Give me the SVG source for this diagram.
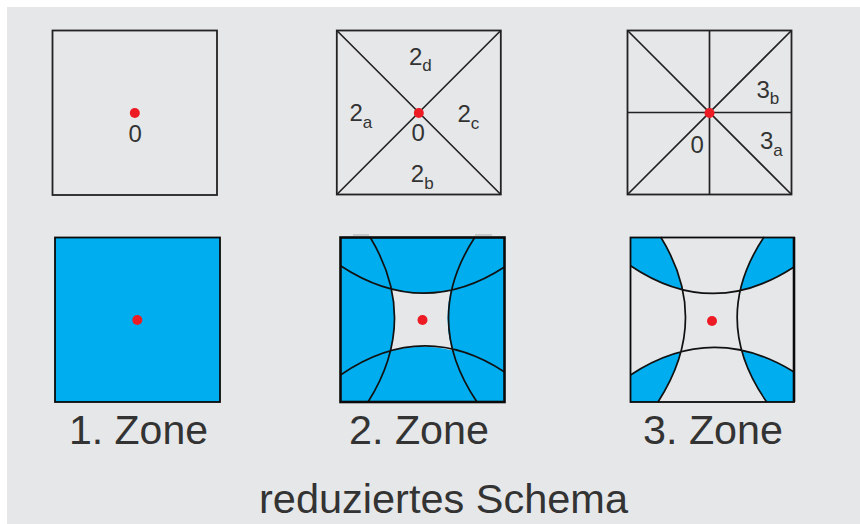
<svg xmlns="http://www.w3.org/2000/svg" width="860" height="524" viewBox="0 0 860 524">
<style>
.box{fill:none;stroke:#222;stroke-width:1.8}
.ln{fill:none;stroke:#222;stroke-width:1.7}
.arc{fill:none;stroke:#111;stroke-width:1.7}
.heavy{fill:none;stroke:#0a0a0a;stroke-width:2.6}
.dot{fill:#ed1c24}
.blue{fill:#00aeef}
.bg{fill:#e6e7e9}
text{font-family:"Liberation Sans",Arial,sans-serif;fill:#333}
.s{font-size:24px}
.sub{font-size:17px}
.big{font-size:40px}
</style>
<defs>
<clipPath id="bandH2"><path d="M340 265.700Q423 320 505 267V375Q423 318.400 340 375Z"/></clipPath>
</defs>
<rect x="0" y="0" width="860" height="524" fill="#fff"/>
<rect class="bg" x="7" y="7" width="853" height="517"/>
<g id="node-top-1">
<rect class="box" x="52.500" y="30.500" width="164.500" height="164.500"/>
<circle class="dot" cx="134.800" cy="113" r="5"/>
<text class="s" x="128.500" y="141.500">0</text>
</g>
<g id="node-top-2">
<rect class="box" x="336.800" y="30.500" width="164" height="164"/>
<path class="ln" d="M336.800 30.500L500.800 194.500M500.800 30.500L336.800 194.500"/>
<circle class="dot" cx="418.800" cy="113" r="5"/>
<text class="s" x="409" y="64.500">2<tspan class="sub" dy="6">d</tspan></text>
<text class="s" x="349.500" y="120.500">2<tspan class="sub" dy="7">a</tspan></text>
<text class="s" x="457.500" y="121.500">2<tspan class="sub" dy="7">c</tspan></text>
<text class="s" x="410.800" y="182">2<tspan class="sub" dy="7">b</tspan></text>
<text class="s" x="411.500" y="141">0</text>
</g>
<g id="node-top-3">
<rect class="box" x="627.500" y="30.500" width="164" height="164"/>
<path class="ln" d="M627.500 30.500L791.500 194.500M791.500 30.500L627.500 194.500M709.500 30.500V194.500M627.500 112.500H791.500"/>
<circle class="dot" cx="709.500" cy="113" r="5"/>
<text class="s" x="756.500" y="98">3<tspan class="sub" dy="6">b</tspan></text>
<text class="s" x="760" y="149">3<tspan class="sub" dy="7">a</tspan></text>
<text class="s" x="690.500" y="152.500">0</text>
</g>
<g id="node-zone-1">
<rect class="blue" x="55" y="237.500" width="165" height="164.500"/>
<rect class="heavy" style="stroke-width:1.8" x="55" y="237.500" width="165" height="164.500"/>
<circle class="dot" cx="137.300" cy="320" r="5"/>
<text class="big" x="69" y="444" textLength="139" lengthAdjust="spacingAndGlyphs">1. Zone</text>
</g>
<g id="node-zone-2">
<rect class="blue" x="340.500" y="237.500" width="164" height="164.500"/>
<g clip-path="url(#bandH2)"><path class="bg" d="M370 237Q420 319.500 368 402H477Q419 319.500 475 237Z"/></g>
<path class="arc" d="M340.500 265.700Q423 320 504.500 267M340.500 375Q423 318.400 504.500 372M370 237Q420 319.500 368 402M475 237Q421 319.500 477 402"/>
<path d="M353 235H369M475 235H492" fill="none" stroke="#a9abae" stroke-width="1.200"/>
<rect class="heavy" x="340.500" y="237.500" width="164" height="164.500"/>
<circle class="dot" cx="422.500" cy="320" r="5"/>
<text class="big" x="349" y="444" textLength="140" lengthAdjust="spacingAndGlyphs">2. Zone</text>
</g>
<g id="node-zone-3">
<rect class="blue" x="630.500" y="237.500" width="163.500" height="164.500"/>
<path class="bg" d="M630.500 265.700Q712 320.600 794 267V372Q712 321.400 630.500 375Z"/>
<path class="bg" d="M660.700 237Q711.600 319.500 658 402H766.700Q709 319.500 764 237Z"/>
<path class="arc" d="M630.500 265.700Q712 320.600 794 267M630.500 375Q712 321.400 794 372M660.700 237Q711.600 319.500 658 402M764 237Q709 319.500 766.700 402"/>
<rect class="heavy" style="stroke-width:1.800" x="630.500" y="237.500" width="163.500" height="164.500"/>
<path d="M794 237V402" fill="none" stroke="#0a0a0a" stroke-width="2.600"/>
<circle class="dot" cx="712" cy="321" r="5"/>
<text class="big" x="643" y="444" textLength="140" lengthAdjust="spacingAndGlyphs">3. Zone</text>
</g>
<g id="connectors"></g>
<text class="big" x="259" y="513" textLength="369" lengthAdjust="spacingAndGlyphs">reduziertes Schema</text>
</svg>
